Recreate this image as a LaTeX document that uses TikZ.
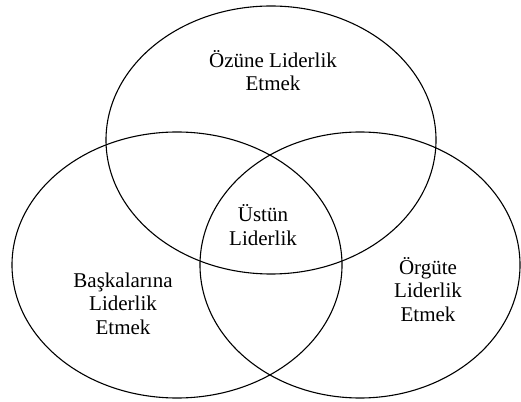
\documentclass[tikz,border=0pt]{standalone}
\usepackage{fontspec}
\setmainfont{Liberation Serif}
\usetikzlibrary{shapes.geometric}
\begin{document}
\begin{tikzpicture}[x=1pt,y=1pt,
  circ/.style={ellipse,draw,line width=1.1pt,inner sep=0pt,outer sep=0pt},
  lab/.style={align=center,inner sep=0pt,font=\fontsize{21}{23.5}\selectfont}]
\useasboundingbox (0,0) rectangle (521,401);
\node[circ,minimum width=330pt,minimum height=268pt] (top) at (271,261) {};
\node[circ,minimum width=330pt,minimum height=266pt] (left) at (177,136) {};
\node[circ,minimum width=320pt,minimum height=266pt] (right) at (360,136) {};
\node[lab] (t1) at (273,330.5) {Özüne Liderlik\\Etmek};
\node[lab] (t2) at (263,176) {Üstün\\Liderlik};
\node[lab] (t3) at (123,97.6) {Başkalarına\\Liderlik\\Etmek};
\node[lab] (t4) at (428,111.5) {Örgüte\\Liderlik\\Etmek};
\end{tikzpicture}
\end{document}
